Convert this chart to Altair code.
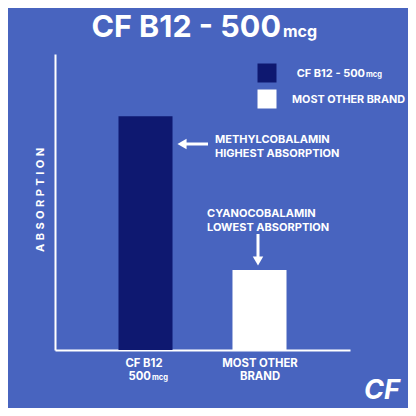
import altair as alt
import pandas as pd

categories = ["CF B12 500mcg", "MOST OTHER BRAND"]
absorption = [79, 27]
bar_colors = ["#0E1870", "#FFFFFF"]
legend_labels = ["CF B12 - 500", "MOST OTHER BRAND"]
title_main = "CF B12 - 500"
unit = "mcg"
axis_title = " \u200A".join("ABSORPTION")
note_high = ["METHYLCOBALAMIN", "HIGHEST ABSORPTION"]
note_low = ["CYANOCOBALAMIN", "LOWEST ABSORPTION"]
x_label_1 = ["CF B12", "500"]
x_label_2 = ["MOST OTHER", "BRAND"]
logo = "CF"

BG = "#4864BF"
FONT = "Inter"
WHITE = "#FFFFFF"

df = pd.DataFrame({"cat": categories, "val": absorption})

bars = alt.Chart(df).mark_bar().encode(
    x=alt.X("cat:N", sort=categories,
            scale=alt.Scale(paddingInner=0.526, paddingOuter=0.557),
            axis=alt.Axis(title=None, labels=False, ticks=False, grid=False,
                          domainColor=WHITE, domainWidth=2)),
    y=alt.Y("val:Q", scale=alt.Scale(domain=[0, 100]),
            axis=alt.Axis(title=None, labels=False, ticks=False, grid=False,
                          domainColor=WHITE, domainWidth=2)),
    color=alt.Color("cat:N", scale=alt.Scale(domain=categories, range=bar_colors), legend=None),
)


def txt(t, x, y, size, align="left", baseline="alphabetic", angle=None, style=None):
    kw = dict(font=FONT, fontWeight="bold", fontSize=size, color=WHITE,
              align=align, baseline=baseline)
    if angle is not None:
        kw["angle"] = angle
    if style is not None:
        kw["fontStyle"] = style
    return alt.Chart(pd.DataFrame({"t": [t]})).mark_text(**kw).encode(
        x=alt.value(x), y=alt.value(y), text="t:N")


def rule(x, y, x2=None, y2=None):
    enc = dict(x=alt.value(x), y=alt.value(y))
    if x2 is not None:
        enc["x2"] = alt.value(x2)
    if y2 is not None:
        enc["y2"] = alt.value(y2)
    return alt.Chart(pd.DataFrame({"a": [0]})).mark_rule(color=WHITE, strokeWidth=3).encode(**enc)


def tri(shape, x, y, size):
    return alt.Chart(pd.DataFrame({"a": [0]})).mark_point(
        shape=shape, filled=True, size=size, color=WHITE, opacity=1).encode(
        x=alt.value(x), y=alt.value(y))


def square(color, x, y):
    return alt.Chart(pd.DataFrame({"a": [0]})).mark_square(
        size=361, color=color, opacity=1).encode(x=alt.value(x), y=alt.value(y))


layers = [
    bars,
    # title
    txt(title_main, 226, -17, 30.5, align="right"),
    txt(unit, 228, -17, 16),
    # legend
    square(bar_colors[0], 212, 19),
    square(bar_colors[1], 212, 45),
    txt(legend_labels[0], 310, 23, 11, align="right"),
    txt(unit, 311, 23, 7.5),
    txt(legend_labels[1], 237, 49, 10.8),
    # y axis title
    txt(axis_title, -14, 146, 11, align="center", baseline="middle", angle=270),
    # annotations
    txt(note_high[0], 160, 89, 11),
    txt(note_high[1], 160, 103, 11),
    rule(130, 90, x2=153),
    tri("triangle-left", 127, 90, 110),
    txt(note_low[0], 152, 163, 11),
    txt(note_low[1], 152, 177, 11),
    rule(203, 180, y2=204),
    tri("triangle-down", 203, 207, 110),
    # x labels
    txt(x_label_1[0], 89, 313, 11.3, align="center"),
    txt(x_label_1[1], 96, 326, 11.3, align="right"),
    txt(unit, 97, 326, 7.5),
    txt(x_label_2[0], 205, 313, 11.3, align="center"),
    txt(x_label_2[1], 205, 326, 11.3, align="center"),
    # logo
    txt(logo, 327, 337, 27, align="center", baseline="middle", style="italic"),
]

chart = alt.layer(*layers).properties(
    width=295, height=296,
    padding={"left": 47, "top": 46, "right": 58, "bottom": 58},
    autosize="none",
    background=BG,
).configure_view(stroke=None)

chart.save("out.html", embed_options={"renderer": "svg", "actions": False})
